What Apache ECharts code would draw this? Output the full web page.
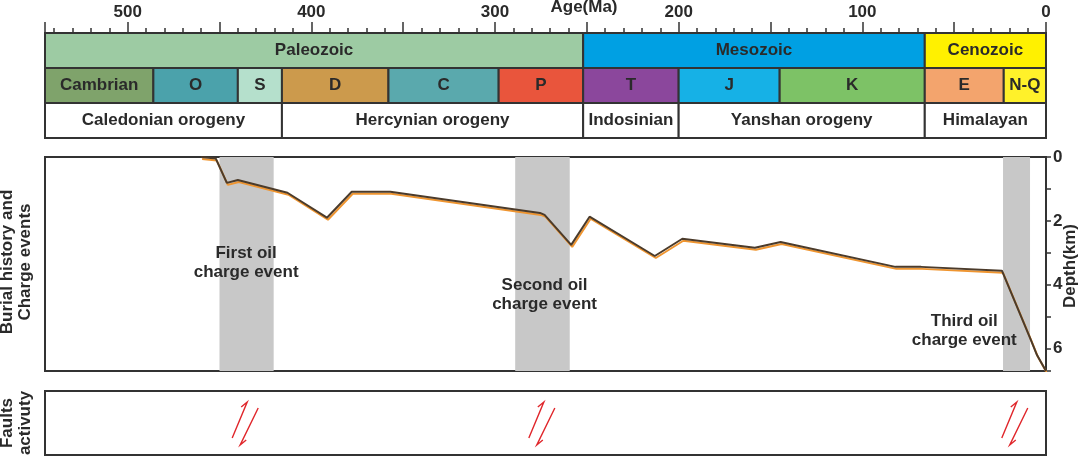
<!DOCTYPE html>
<html>
<head>
<meta charset="utf-8">
<script src="https://cdn.jsdelivr.net/npm/echarts/dist/echarts.min.js"></script>
<style>
html, body { margin: 0; padding: 0; background: #fff; }
#main { width: 1080px; height: 459px; }
</style>
</head>
<body>
<div id="main"></div>
<script>
// 地质年代 (Ma)
var eraNames = ['Paleozoic', 'Mesozoic', 'Cenozoic'];
var eraBounds = [545, 252, 66, 0];
var periodNames = ['Cambrian', 'O', 'S', 'D', 'C', 'P', 'T', 'J', 'K', 'E', 'N-Q'];
var periodBounds = [545, 486, 440, 416, 358, 298, 252, 200, 145, 66, 23, 0];
var orogenyNames = ['Caledonian orogeny', 'Hercynian orogeny', 'Indosinian', 'Yanshan orogeny', 'Himalayan'];
var orogenyBounds = [545, 416, 252, 200, 66, 0];

// 埋藏史曲线
var burialAge = [460, 452, 446, 440, 413, 391.5, 378, 357, 275.5, 273, 258.5, 248.5, 213, 198, 158.5, 144.5, 82, 68, 24, 8.7, 4.9, 0];
var burialDepth = [0, 0.05, 0.81, 0.72, 1.12, 1.9, 1.09, 1.09, 1.75, 1.81, 2.75, 1.87, 3.1, 2.56, 2.84, 2.66, 3.44, 3.44, 3.56, 5.66, 6.2, 6.7];

// 充注事件
var chargeStart = [450, 289, 23.4];
var chargeEnd = [420.5, 259.3, 8.7];
var chargeLabels = ['First oil\ncharge event', 'Second oil\ncharge event', 'Third oil\ncharge event'];
var chargeLabelAge = [435.5, 273, 44.5];
var chargeLabelDepth = [3.3, 4.33, 5.44];

// 断裂活动
var faultAges = [436, 274.5, 17];

// 样式
var eraColors = ['#9dcba3', '#00a0e3', '#fff100'];
var periodColors = ['#7fa36b', '#4ba2ab', '#b5e0cc', '#cc9a4c', '#5aa9ad', '#e9553c', '#8b479c', '#16b1e6', '#7dc266', '#f3a46d', '#fff12a'];
var orogenyColors = ['#fff', '#fff', '#fff', '#fff', '#fff'];
var FONT = '"Liberation Sans", Arial, sans-serif';
var INK = '#2a2a2a';

function bands(bounds, row) {
    var out = [];
    for (var i = 0; i < bounds.length - 1; i++) out.push([bounds[i], bounds[i + 1], row, i]);
    return out;
}
var boxData = bands(eraBounds, 0).concat(bands(periodBounds, 1), bands(orogenyBounds, 2));
var boxNames = [eraNames, periodNames, orogenyNames];
var boxColors = [eraColors, periodColors, orogenyColors];

var chart = echarts.init(document.getElementById('main'));

var ageAxis = { type: 'value', min: 0, max: 545, inverse: true };

var option = {
    animation: false,
    grid: [
        { left: 45, right: 34, top: 33, height: 105, outerBoundsMode: 'none', containLabel: false },
        { left: 45, right: 34, top: 157, height: 214, outerBoundsMode: 'none', containLabel: false, show: true, borderColor: '#333', borderWidth: 2, backgroundColor: 'transparent' },
        { left: 45, right: 34, top: 391, height: 64, outerBoundsMode: 'none', containLabel: false, show: true, borderColor: '#333', borderWidth: 2, backgroundColor: 'transparent' }
    ],
    xAxis: [
        Object.assign({}, ageAxis, {
            gridIndex: 0, position: 'top', interval: 50,
            axisLine: { show: true, lineStyle: { color: '#333', width: 2 } },
            axisTick: { show: true, length: 11, lineStyle: { color: '#333', width: 1.5 } },
            minorTick: { show: true, splitNumber: 5, length: 5, lineStyle: { color: '#333', width: 1.5 } },
            splitLine: { show: false },
            axisLabel: {
                margin: 12, color: INK, fontSize: 17, fontWeight: 'bold', fontFamily: FONT,
                formatter: function (v) { return ageTicksShow(v); }
            }
        }),
        Object.assign({}, ageAxis, { gridIndex: 1, show: false }),
        Object.assign({}, ageAxis, { gridIndex: 2, show: false })
    ],
    yAxis: [
        { gridIndex: 0, type: 'value', min: 0, max: 3, inverse: true, show: false },
        {
            gridIndex: 1, type: 'value', min: 0, max: 6.7, interval: 1, inverse: true, position: 'right',
            axisLine: { show: true, lineStyle: { color: '#333', width: 2 } },
            axisTick: { show: true, length: 5, lineStyle: { color: '#333', width: 1.5 } },
            splitLine: { show: false },
            axisLabel: {
                margin: 7, color: INK, fontSize: 17, fontWeight: 'bold', fontFamily: FONT,
                formatter: function (v) { return depthTicksShow(v); }
            }
        },
        { gridIndex: 2, type: 'value', min: 0, max: 1, show: false }
    ],
    graphic: [
        { type: 'text', x: 584, y: 7, style: { text: 'Age(Ma)', font: 'bold 17px ' + FONT, fill: INK, align: 'center', verticalAlign: 'middle' } },
        { type: 'text', x: 1070, y: 266, rotation: Math.PI / 2, style: { text: 'Depth(km)', font: 'bold 17px ' + FONT, fill: INK, align: 'center', verticalAlign: 'middle' } },
        { type: 'text', x: 16, y: 262, rotation: Math.PI / 2, style: { text: 'Burial history and\nCharge events', font: 'bold 17px ' + FONT, fill: INK, align: 'center', verticalAlign: 'middle', lineHeight: 18 } },
        { type: 'text', x: 16, y: 423, rotation: Math.PI / 2, style: { text: 'Faults\nactivuty', font: 'bold 17px ' + FONT, fill: INK, align: 'center', verticalAlign: 'middle', lineHeight: 18 } }
    ],
    series: [
        {
            type: 'custom', xAxisIndex: 0, yAxisIndex: 0,
            encode: { x: [0, 1], y: 2 },
            data: boxData,
            renderItem: function (params, api) {
                var row = api.value(2), i = api.value(3);
                var a = api.coord([api.value(0), row]);
                var b = api.coord([api.value(1), row + 1]);
                return {
                    type: 'rect',
                    shape: { x: a[0], y: a[1], width: b[0] - a[0], height: b[1] - a[1] },
                    style: { fill: boxColors[row][i], stroke: '#333', lineWidth: 2 },
                    textContent: { style: { text: boxNames[row][i], font: 'bold 17px ' + FONT, fill: INK } },
                    textConfig: { position: 'inside' }
                };
            }
        },
        {
            type: 'line', xAxisIndex: 1, yAxisIndex: 1,
            data: burialAge.map(function (a, i) { return [a, burialDepth[i]]; }),
            showSymbol: false, z: 5,
            lineStyle: { color: '#4b3b2b', width: 2, shadowColor: '#ef9530', shadowOffsetY: 2, shadowOffsetX: 1, shadowBlur: 0 },
            markArea: {
                silent: true,
                itemStyle: { color: '#c8c8c8' },
                data: chargeStart.map(function (s, i) { return [{ xAxis: s }, { xAxis: chargeEnd[i] }]; })
            }
        },
        {
            type: 'scatter', xAxisIndex: 1, yAxisIndex: 1, symbolSize: 0, z: 6,
            itemStyle: { opacity: 1 },
            data: chargeLabelAge.map(function (a, i) { return [a, chargeLabelDepth[i], chargeLabels[i]]; }),
            label: {
                show: true, position: 'inside', color: INK, opacity: 1, fontSize: 17, fontWeight: 'bold', fontFamily: FONT, lineHeight: 19,
                formatter: function (p) { return p.value[2]; }
            }
        },
        {
            type: 'custom', xAxisIndex: 2, yAxisIndex: 2,
            encode: { x: 0, y: 1 },
            data: faultAges.map(function (a) { return [a, 0.5]; }),
            renderItem: function (params, api) {
                var c = api.coord([api.value(0), api.value(1)]);
                var x = c[0], y = c[1];
                var st = { stroke: '#e0262b', lineWidth: 1.4, fill: null };
                return {
                    type: 'group',
                    children: [
                        { type: 'polyline', shape: { points: [[x - 13, y + 15], [x + 2, y - 21], [x - 4, y - 16]] }, style: st },
                        { type: 'polyline', shape: { points: [[x + 13, y - 15], [x - 5, y + 22], [x + 1, y + 17]] }, style: st }
                    ]
                };
            }
        }
    ]
};

function ageTicksShow(v) { return v % 100 === 0 ? String(v) : ''; }
function depthTicksShow(v) { return v % 2 === 0 ? String(v) : ''; }

chart.setOption(option);
</script>
</body>
</html>
